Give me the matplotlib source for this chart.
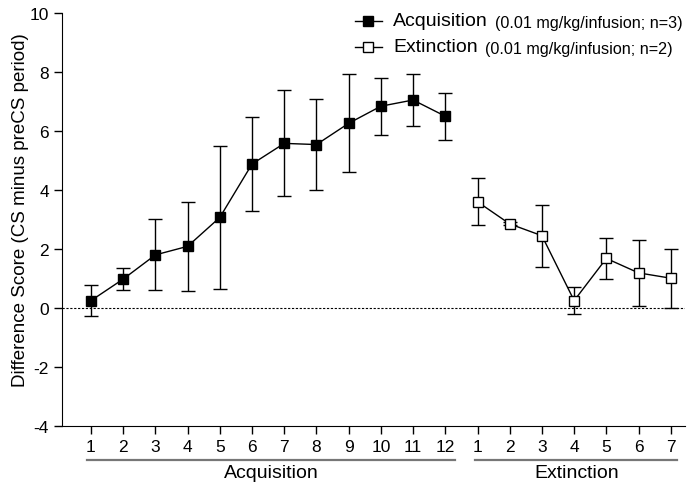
import numpy as np
import matplotlib
matplotlib.use("Agg")
from matplotlib import pyplot as plt
import matplotlib.transforms as mtransforms

plt.rcParams['font.family'] = ['Liberation Sans', 'DejaVu Sans']

# sessions
acq_sessions = list(range(1, 13))
ext_sessions = list(range(1, 8))

# acquisition means and SEM
acq_mean = [0.25, 0.98, 1.80, 2.09, 3.07, 4.88, 5.58, 5.54, 6.26, 6.84, 7.05, 6.50]
acq_err = [0.53, 0.38, 1.20, 1.50, 2.43, 1.60, 1.80, 1.54, 1.66, 0.96, 0.87, 0.79]

# extinction means and SEM
ext_mean = [3.60, 2.85, 2.45, 0.25, 1.68, 1.19, 1.01]
ext_err = [0.80, 0.05, 1.05, 0.46, 0.70, 1.11, 1.00]

acq_x = np.arange(1, len(acq_sessions) + 1)
ext_x = np.arange(len(acq_sessions) + 1, len(acq_sessions) + len(ext_sessions) + 1)

fig = plt.figure(figsize=(6.95, 4.89), dpi=100)
ax = fig.add_axes([0.0892, 0.1268, 0.8968, 0.8446])

ax.axhline(0, color='black', linestyle=(0, (2, 1.5)), linewidth=0.8, zorder=1)

ax.errorbar(acq_x, acq_mean, yerr=acq_err, color='black', marker='s', markersize=7.5,
            markerfacecolor='black', markeredgecolor='black', linewidth=1,
            elinewidth=1, capsize=5, capthick=1, zorder=3)
ax.errorbar(ext_x, ext_mean, yerr=ext_err, color='black', marker='s', markersize=7.5,
            markerfacecolor='white', markeredgecolor='black', linewidth=1,
            elinewidth=1, capsize=5, capthick=1, zorder=3)

ax.set_xlim(0.1, 19.45)
ax.set_ylim(-4, 10)
ax.set_yticks(range(-4, 11, 2))
ax.set_yticklabels([str(v) for v in range(-4, 11, 2)])
ax.set_xticks(list(acq_x) + list(ext_x))
ax.set_xticklabels([str(s) for s in acq_sessions] + [str(s) for s in ext_sessions])
ax.tick_params(axis='both', direction='out', length=6, width=1, labelsize=12.5)
ax.spines['top'].set_visible(False)
ax.spines['right'].set_visible(False)

ax.set_ylabel('Difference Score (CS minus preCS period)', fontsize=13.5)
ax.yaxis.set_label_coords(-0.053, 0.525)

# group brackets under the tick labels
trans = mtransforms.blended_transform_factory(ax.transData, ax.transAxes)
ax.plot([0.88, 12.3], [-0.082, -0.082], color='#777777', linewidth=1.6,
        transform=trans, clip_on=False)
ax.plot([12.93, 19.2], [-0.082, -0.082], color='#777777', linewidth=1.6,
        transform=trans, clip_on=False)
ax.text((0.88 + 12.3) / 2, -0.112, 'Acquisition', transform=trans, ha='center',
        va='center', fontsize=14)
ax.text((12.93 + 19.2) / 2, -0.112, 'Extinction', transform=trans, ha='center',
        va='center', fontsize=14)

# legend drawn by hand so the two text sizes can differ
leg_x0, leg_x1 = 0.470, 0.513
for yy, face, name, note in [(0.981, 'black', 'Acquisition', '(0.01 mg/kg/infusion; n=3)'),
                             (0.918, 'white', 'Extinction', '(0.01 mg/kg/infusion; n=2)')]:
    ax.plot([leg_x0, leg_x1], [yy, yy], color='black', linewidth=1,
            transform=ax.transAxes, clip_on=False)
    ax.plot([(leg_x0 + leg_x1) / 2], [yy], marker='s', markersize=7.5, color='black',
            markerfacecolor=face, transform=ax.transAxes, clip_on=False)
    t = ax.text(0.531, yy, name, transform=ax.transAxes, ha='left', va='center',
                fontsize=14)
    ax.annotate(note, xy=(1, 0.5), xycoords=t, xytext=(5, -1),
                textcoords='offset points', ha='left', va='center', fontsize=11.6)

fig.savefig('out.png', dpi=100)
